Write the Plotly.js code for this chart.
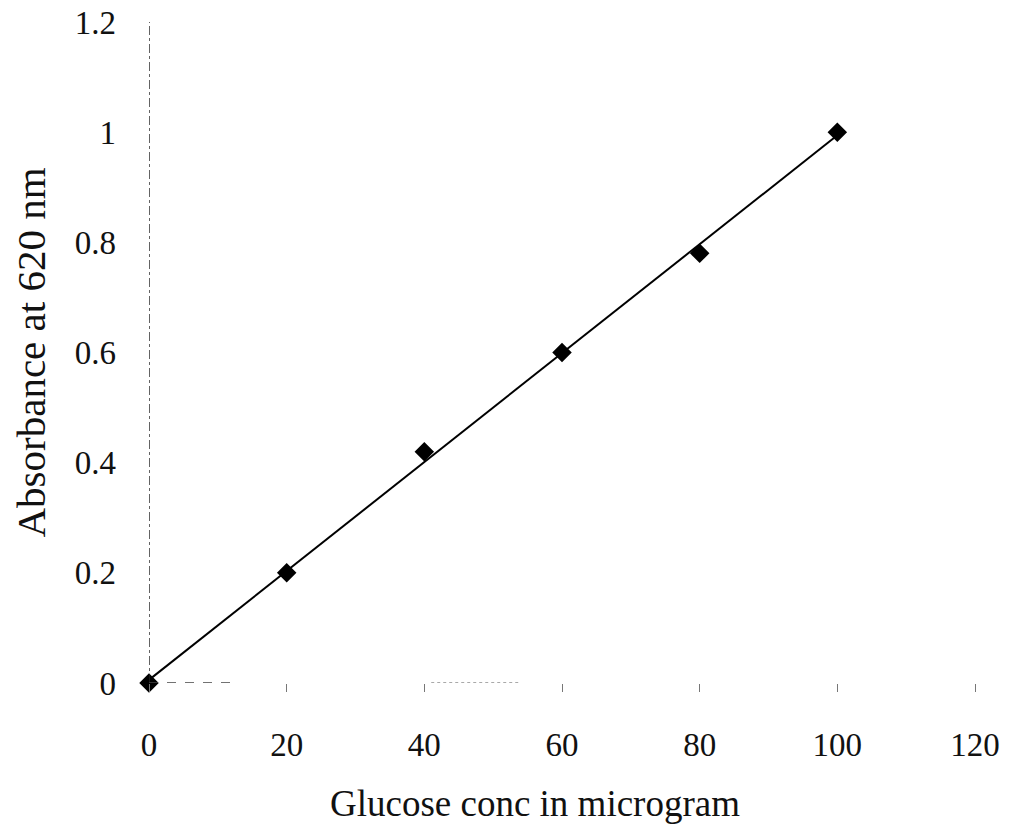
<!DOCTYPE html>
<html><head><meta charset="utf-8">
<script src="https://cdn.plot.ly/plotly-3.0.1.min.js"></script>
<style>html,body{margin:0;padding:0;background:#fff}#chart{width:1011px;height:837px}</style>
</head><body><div id="chart"></div>
<script>
const glucose = [0, 20, 40, 60, 80, 100];
const absorbance = [0, 0.2, 0.42, 0.6, 0.78, 1.0];
const xTicks = [0, 20, 40, 60, 80, 100, 120];
const yTicks = [0, 0.2, 0.4, 0.6, 0.8, 1, 1.2];
const yTickText = ['0', '0.2', '0.4', '0.6', '0.8', '1', '1.2'];

// least-squares trend line derived from the data
const n = glucose.length;
const mx = glucose.reduce((a,b)=>a+b,0)/n;
const my = absorbance.reduce((a,b)=>a+b,0)/n;
let sxy = 0, sxx = 0;
for (let i=0;i<n;i++){ sxy += (glucose[i]-mx)*(absorbance[i]-my); sxx += (glucose[i]-mx)**2; }
const slope = sxy/sxx, intercept = my - slope*mx;
const trendX = [glucose[0], glucose[n-1]];
const trendY = trendX.map(x => intercept + slope*x);

const font = "'Liberation Serif', 'DejaVu Serif', serif";

const traces = [
  {x: trendX, y: trendY, mode: 'lines', line: {color: '#000', width: 2}, hoverinfo: 'skip', showlegend: false, cliponaxis: false},
  {x: glucose, y: absorbance, mode: 'markers', marker: {symbol: 'diamond', size: 15, color: '#000'}, showlegend: false, cliponaxis: false}
];

const layout = {
  width: 1011, height: 837,
  margin: {l: 149, r: 36, t: 22, b: 154},
  paper_bgcolor: '#fff', plot_bgcolor: '#fff',
  font: {family: font, color: '#111', size: 33},
  xaxis: {
    range: [0, 120], tickvals: xTicks, ticktext: xTicks.map(String),
    showgrid: false, zeroline: false, showline: false,
    ticks: 'outside', ticklen: 8, tickwidth: 1, tickcolor: '#777',
    ticklabelstandoff: 24, tickfont: {size: 33, family: font}
  },
  yaxis: {
    range: [0, 1.2], tickvals: yTicks, ticktext: yTickText,
    showgrid: false, zeroline: false, showline: false,
    ticks: '', ticklabelstandoff: 32, tickfont: {size: 33, family: font},
    title: {text: 'Absorbance at 620 nm', font: {size: 41, family: font}, standoff: 16}
  },
  shapes: [
    {type: 'line', xref: 'x', yref: 'y', x0: 0, x1: 0, y0: 0, y1: 1.2,
     line: {color: '#222', width: 1.4, dash: 'dashdot'}},
    {type: 'line', xref: 'x', yref: 'y', x0: 0, x1: 13, y0: 0, y1: 0,
     line: {color: '#444', width: 1.3, dash: 'dash'}},
    {type: 'line', xref: 'x', yref: 'y', x0: 41, x1: 54, y0: 0, y1: 0,
     line: {color: '#555', width: 1.2, dash: 'dot'}}
  ],
  annotations: [
    {text: 'Glucose conc in microgram', xref: 'paper', yref: 'paper',
     x: 0.467, y: -0.183, xanchor: 'center', yanchor: 'middle', showarrow: false,
     font: {size: 37, family: font}}
  ]
};

Plotly.newPlot('chart', traces, layout, {displayModeBar: false, staticPlot: true});
</script></body></html>
